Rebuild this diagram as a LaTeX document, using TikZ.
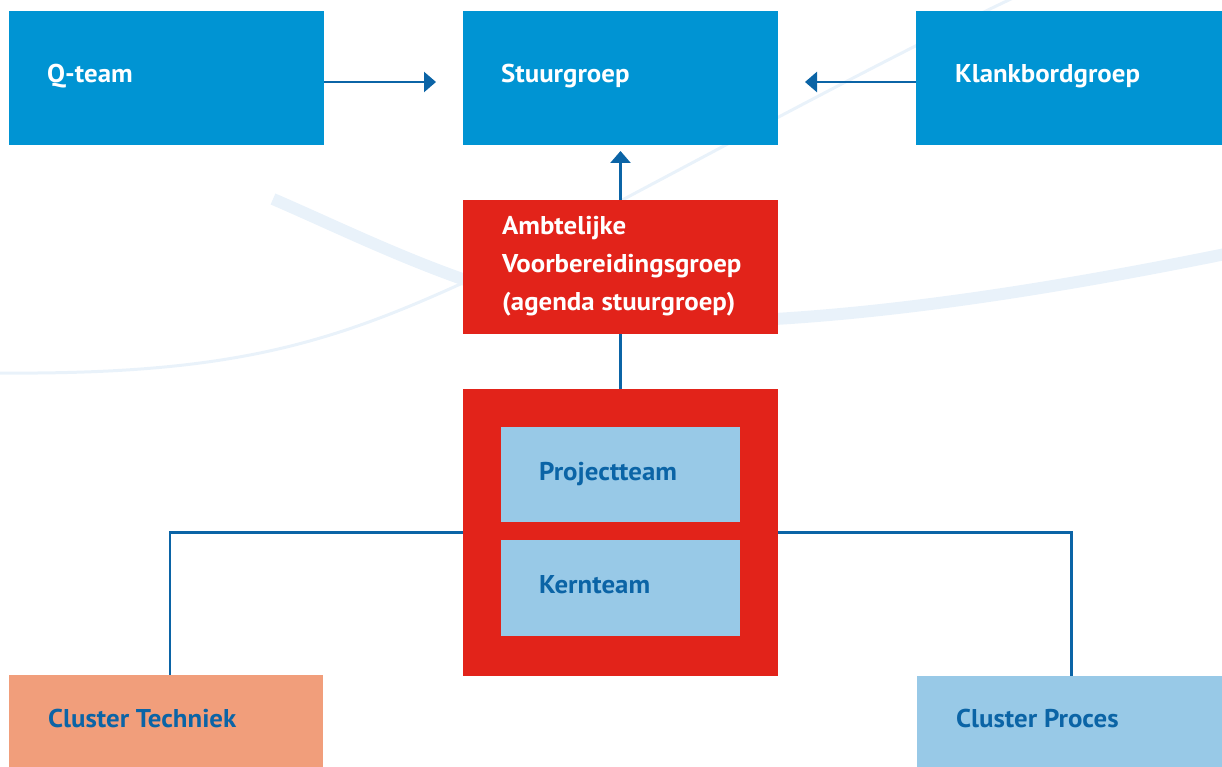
\documentclass[tikz,border=0pt]{standalone}
\usepackage{fontspec}
\setmainfont{PT Sans}[FakeStretch=1.045]
\usetikzlibrary{arrows.meta}
\definecolor{boxblue}{HTML}{0094D3}
\definecolor{boxred}{HTML}{E2231A}
\definecolor{lightblue}{HTML}{98C9E7}
\definecolor{salmon}{HTML}{F19E7B}
\definecolor{darkblue}{HTML}{0B64A6}
\definecolor{swooshcol}{HTML}{E9F2FA}
\begin{document}
\begin{tikzpicture}[x=1pt,y=-1pt,
  box/.style={anchor=north west, inner sep=0pt, outer sep=0pt},
  lbl/.style={anchor=base west, inner sep=0pt, font=\bfseries\fontsize{25.7pt}{37.5pt}\selectfont},
  swoosh/.style={draw=swooshcol, line cap=butt},
  conn/.style={draw=darkblue, line width=2.5pt},
  arr/.style={conn, -{Triangle[length=12pt,width=20pt]}}]
\useasboundingbox (0,0) rectangle (1222,767);
\begin{scope}
\clip (0,0) rectangle (1222,767);
\draw[swoosh, line width=12pt] (273,199) .. controls (380,245) and (520,320) .. (680,322) .. controls (850,322) and (1050,290) .. (1240,251);
\draw[swoosh, line width=3pt] (-5,373) .. controls (230,375) and (330,345) .. (480,275) .. controls (700,160) and (880,60) .. (1030,-10);
\end{scope}
% boxes
\node[box, fill=boxblue, minimum width=315pt, minimum height=134pt] (qteam) at (9,11) {};
\node[box, fill=boxblue, minimum width=315pt, minimum height=134pt] (stuur) at (463,11) {};
\node[box, fill=boxblue, minimum width=306pt, minimum height=134pt] (klank) at (916,11) {};
\node[box, fill=boxred, minimum width=315pt, minimum height=134pt] (ambt) at (463,200) {};
\node[box, fill=boxred, minimum width=315pt, minimum height=287pt] (big) at (463,389) {};
\node[box, fill=lightblue, minimum width=239pt, minimum height=95pt] (proj) at (501,427) {};
\node[box, fill=lightblue, minimum width=239pt, minimum height=96pt] (kern) at (501,540) {};
\node[box, fill=salmon, minimum width=314pt, minimum height=92pt] (ctech) at (9,675) {};
\node[box, fill=lightblue, minimum width=305pt, minimum height=91pt] (cproc) at (917,676) {};
% labels
\node[lbl, text=white] (qteam-t) at (47,83) {Q-team};
\node[lbl, text=white] (stuur-t) at (501,83) {Stuurgroep};
\node[lbl, text=white] (klank-t) at (955,83) {Klankbordgroep};
\node[lbl, text=white] (ambt-t) at (502,235) {\parbox[t]{270pt}{\raggedright Ambtelijke\\Voorbereidingsgroep\\(agenda stuurgroep)}};
\node[lbl, text=darkblue] (proj-t) at (539,480) {Projectteam};
\node[lbl, text=darkblue] (kern-t) at (539,593) {Kernteam};
\node[lbl, text=darkblue] (ctech-t) at (48,727) {Cluster Techniek};
\node[lbl, text=darkblue] (cproc-t) at (956,727) {Cluster Proces};
% connectors
\draw[arr] ([yshift=-4pt]qteam.east) -- ([yshift=-4pt,xshift=-27pt]stuur.west);
\draw[arr] ([yshift=-4pt]klank.west) -- ([yshift=-4pt,xshift=27pt]stuur.east);
\draw[arr] (ambt.north) -- ([yshift=-6pt]stuur.south);
\draw[conn] (ambt.south) -- (big.north);
\draw[conn] (big.west) -| ([xshift=4pt]ctech.north);
\draw[conn] (big.east) -| ([xshift=2pt]cproc.north);
\end{tikzpicture}
\end{document}
